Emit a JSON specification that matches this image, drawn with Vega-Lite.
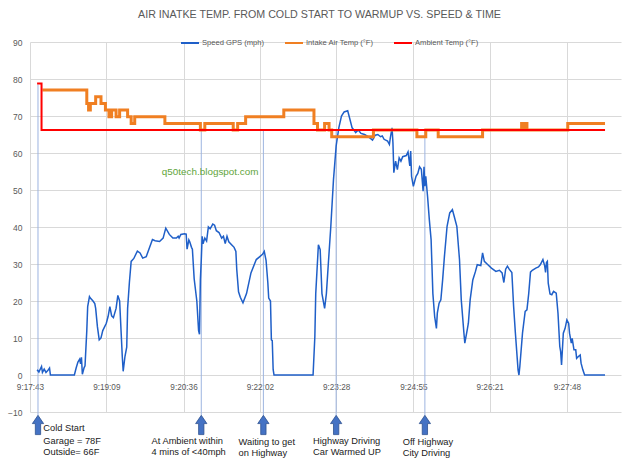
{
  "$schema": "https://vega.github.io/schema/vega-lite/v6.json",
  "description": "Air intake temp from cold start to warmup vs. speed and time",
  "autosize": {"type": "none"},
  "width": 591,
  "height": 370,
  "padding": {"left": 30, "top": 42, "right": 19, "bottom": 53},
  "background": "white",
  "config": {
    "font": "Liberation Sans",
    "view": {"stroke": null},
    "axisY": {
      "grid": true, "gridColor": "#D9D9D9", "gridWidth": 1,
      "domain": false, "ticks": false, "labelOverlap": false,
      "labelColor": "#595959", "labelFontSize": 8.5, "labelPadding": 8
    }
  },
  "title": {
    "text": "AIR INATKE TEMP. FROM COLD START TO WARMUP VS. SPEED & TIME",
    "frame": "group",
    "anchor": "middle",
    "dx": -6,
    "offset": 12,
    "font": "Liberation Sans",
    "fontSize": 10.7,
    "fontWeight": "normal",
    "color": "#595959"
  },
  "encoding": {
    "x": {
      "field": "time",
      "type": "temporal",
      "title": null,
      "scale": {
        "domain": [
          {"year": 1900, "month": 1, "date": 1, "hours": 9, "minutes": 17, "seconds": 43},
          {"year": 1900, "month": 1, "date": 1, "hours": 9, "minutes": 28, "seconds": 49}
        ],
        "nice": false
      },
      "axis": {
        "values": [
          {"year": 1900, "month": 1, "date": 1, "hours": 9, "minutes": 17, "seconds": 43},
          {"year": 1900, "month": 1, "date": 1, "hours": 9, "minutes": 19, "seconds": 9},
          {"year": 1900, "month": 1, "date": 1, "hours": 9, "minutes": 20, "seconds": 36},
          {"year": 1900, "month": 1, "date": 1, "hours": 9, "minutes": 22, "seconds": 2},
          {"year": 1900, "month": 1, "date": 1, "hours": 9, "minutes": 23, "seconds": 28},
          {"year": 1900, "month": 1, "date": 1, "hours": 9, "minutes": 24, "seconds": 55},
          {"year": 1900, "month": 1, "date": 1, "hours": 9, "minutes": 26, "seconds": 21},
          {"year": 1900, "month": 1, "date": 1, "hours": 9, "minutes": 27, "seconds": 48}
        ],
        "format": "%-H:%M:%S",
        "grid": true,
        "gridColor": "#D9D9D9",
        "domain": false,
        "ticks": false,
        "offset": -37,
        "labelPadding": 8,
        "labelFlush": false,
        "labelOverlap": false,
        "labelColor": "#595959",
        "labelFontSize": 8.2
      }
    }
  },
  "layer": [
    {
      "data": {
        "values": [
          {"time": "09:17:52", "from": 78.5},
          {"time": "09:20:56", "from": 66},
          {"time": "09:22:06", "from": 66},
          {"time": "09:23:28", "from": 66},
          {"time": "09:25:08", "from": 66}
        ],
        "format": {"parse": {"time": "date:'%H:%M:%S'"}}
      },
      "mark": {"type": "rule", "color": "#9DB4E0", "strokeWidth": 1},
      "encoding": {
        "y": {"field": "from", "type": "quantitative", "title": null,
              "scale": {"domain": [-10, 90], "nice": false, "zero": false},
              "axis": {"values": [-10, 0, 10, 20, 30, 40, 50, 60, 70, 80, 90]}},
        "y2": {"datum": -10.9}
      }
    },
    {
      "data": {
        "values": [
          {"time": "09:17:51", "value": 1.4}, {"time": "09:17:53", "value": 0.8}, {"time": "09:17:56", "value": 2.3},
          {"time": "09:17:57", "value": 0.7}, {"time": "09:17:59", "value": 1.6}, {"time": "09:18:01", "value": 0.7},
          {"time": "09:18:03", "value": 1.2}, {"time": "09:18:05", "value": 1.9}, {"time": "09:18:06", "value": 0},
          {"time": "09:18:33", "value": 0}, {"time": "09:18:35", "value": 1.9}, {"time": "09:18:37", "value": 3.5},
          {"time": "09:18:39", "value": 4.3}, {"time": "09:18:40", "value": 3.0}, {"time": "09:18:41", "value": 4.8},
          {"time": "09:18:42", "value": 0.2}, {"time": "09:18:44", "value": 2.0}, {"time": "09:18:45", "value": 2.5},
          {"time": "09:18:47", "value": 12}, {"time": "09:18:48", "value": 18.5}, {"time": "09:18:50", "value": 21.2},
          {"time": "09:18:51", "value": 20.8}, {"time": "09:18:54", "value": 20}, {"time": "09:18:56", "value": 19.3},
          {"time": "09:18:57", "value": 18}, {"time": "09:18:59", "value": 13}, {"time": "09:19:01", "value": 9.5},
          {"time": "09:19:03", "value": 10}, {"time": "09:19:05", "value": 12}, {"time": "09:19:09", "value": 14},
          {"time": "09:19:11", "value": 15.8}, {"time": "09:19:13", "value": 18.5}, {"time": "09:19:15", "value": 16},
          {"time": "09:19:17", "value": 15.5}, {"time": "09:19:20", "value": 18}, {"time": "09:19:22", "value": 21.5},
          {"time": "09:19:24", "value": 20}, {"time": "09:19:26", "value": 10}, {"time": "09:19:27", "value": 5},
          {"time": "09:19:28", "value": 1}, {"time": "09:19:30", "value": 5}, {"time": "09:19:32", "value": 7.5},
          {"time": "09:19:33", "value": 18}, {"time": "09:19:35", "value": 25}, {"time": "09:19:37", "value": 30.7},
          {"time": "09:19:40", "value": 31.5}, {"time": "09:19:44", "value": 33.5}, {"time": "09:19:47", "value": 33},
          {"time": "09:19:50", "value": 31.6}, {"time": "09:19:54", "value": 32}, {"time": "09:19:57", "value": 34},
          {"time": "09:20:01", "value": 36.6}, {"time": "09:20:04", "value": 36.3}, {"time": "09:20:09", "value": 36.1},
          {"time": "09:20:13", "value": 37}, {"time": "09:20:16", "value": 39.7}, {"time": "09:20:20", "value": 38},
          {"time": "09:20:24", "value": 37}, {"time": "09:20:28", "value": 37}, {"time": "09:20:30", "value": 37.5},
          {"time": "09:20:31", "value": 37}, {"time": "09:20:33", "value": 38}, {"time": "09:20:37", "value": 38.2},
          {"time": "09:20:39", "value": 38.1}, {"time": "09:20:40", "value": 34}, {"time": "09:20:42", "value": 36.5},
          {"time": "09:20:43", "value": 36}, {"time": "09:20:45", "value": 34.5}, {"time": "09:20:46", "value": 34},
          {"time": "09:20:48", "value": 26}, {"time": "09:20:51", "value": 20}, {"time": "09:20:53", "value": 12},
          {"time": "09:20:54", "value": 11}, {"time": "09:20:55", "value": 25.8}, {"time": "09:20:56", "value": 31},
          {"time": "09:20:57", "value": 37.5}, {"time": "09:20:58", "value": 35.5}, {"time": "09:21:00", "value": 37},
          {"time": "09:21:02", "value": 36.2}, {"time": "09:21:04", "value": 40}, {"time": "09:21:06", "value": 39.5},
          {"time": "09:21:09", "value": 40.8}, {"time": "09:21:11", "value": 40.5}, {"time": "09:21:13", "value": 39},
          {"time": "09:21:16", "value": 38.5}, {"time": "09:21:19", "value": 37}, {"time": "09:21:21", "value": 37.5},
          {"time": "09:21:23", "value": 35.5}, {"time": "09:21:25", "value": 37.5}, {"time": "09:21:27", "value": 36},
          {"time": "09:21:31", "value": 35}, {"time": "09:21:33", "value": 34.5}, {"time": "09:21:35", "value": 33.4},
          {"time": "09:21:36", "value": 28.5}, {"time": "09:21:38", "value": 22.5}, {"time": "09:21:40", "value": 21},
          {"time": "09:21:43", "value": 19.5}, {"time": "09:21:47", "value": 22}, {"time": "09:21:52", "value": 27.6},
          {"time": "09:21:58", "value": 31.2}, {"time": "09:22:02", "value": 32}, {"time": "09:22:05", "value": 32.6},
          {"time": "09:22:07", "value": 33.4}, {"time": "09:22:09", "value": 31}, {"time": "09:22:11", "value": 25},
          {"time": "09:22:12", "value": 20.8}, {"time": "09:22:14", "value": 20}, {"time": "09:22:15", "value": 9.5},
          {"time": "09:22:16", "value": 9.3}, {"time": "09:22:17", "value": 1.5}, {"time": "09:22:18", "value": 0},
          {"time": "09:23:02", "value": 0}, {"time": "09:23:04", "value": 10.4}, {"time": "09:23:05", "value": 22},
          {"time": "09:23:08", "value": 35.2}, {"time": "09:23:10", "value": 33.9}, {"time": "09:23:12", "value": 22},
          {"time": "09:23:15", "value": 18}, {"time": "09:23:17", "value": 22}, {"time": "09:23:19", "value": 29.4},
          {"time": "09:23:22", "value": 40.2}, {"time": "09:23:25", "value": 52.8}, {"time": "09:23:28", "value": 61.9},
          {"time": "09:23:31", "value": 66.8}, {"time": "09:23:34", "value": 70}, {"time": "09:23:37", "value": 71.1},
          {"time": "09:23:41", "value": 71.4}, {"time": "09:23:43", "value": 69.6}, {"time": "09:23:46", "value": 66.8},
          {"time": "09:23:49", "value": 65.9}, {"time": "09:23:50", "value": 65.5}, {"time": "09:23:53", "value": 66.2},
          {"time": "09:23:56", "value": 65.3}, {"time": "09:24:00", "value": 65}, {"time": "09:24:04", "value": 64.4},
          {"time": "09:24:07", "value": 63.9}, {"time": "09:24:09", "value": 63.5}, {"time": "09:24:12", "value": 64.8},
          {"time": "09:24:15", "value": 65}, {"time": "09:24:18", "value": 64.4}, {"time": "09:24:20", "value": 64.6},
          {"time": "09:24:22", "value": 63.7}, {"time": "09:24:26", "value": 63.2}, {"time": "09:24:28", "value": 62.3},
          {"time": "09:24:29", "value": 64}, {"time": "09:24:31", "value": 66.8}, {"time": "09:24:32", "value": 62.8},
          {"time": "09:24:33", "value": 54.7}, {"time": "09:24:35", "value": 57.8}, {"time": "09:24:37", "value": 55.5},
          {"time": "09:24:39", "value": 58.7}, {"time": "09:24:41", "value": 57.8}, {"time": "09:24:43", "value": 59},
          {"time": "09:24:47", "value": 59.3}, {"time": "09:24:49", "value": 60.3}, {"time": "09:24:51", "value": 56.5},
          {"time": "09:24:52", "value": 60.5}, {"time": "09:24:53", "value": 53.7}, {"time": "09:24:55", "value": 51},
          {"time": "09:24:58", "value": 53.7}, {"time": "09:25:00", "value": 54.5}, {"time": "09:25:02", "value": 56.3},
          {"time": "09:25:04", "value": 55.6}, {"time": "09:25:06", "value": 49.7}, {"time": "09:25:07", "value": 56.3},
          {"time": "09:25:08", "value": 51}, {"time": "09:25:09", "value": 53.7}, {"time": "09:25:11", "value": 48.3},
          {"time": "09:25:13", "value": 42}, {"time": "09:25:15", "value": 36.6}, {"time": "09:25:17", "value": 22},
          {"time": "09:25:19", "value": 15.8}, {"time": "09:25:21", "value": 12.6}, {"time": "09:25:22", "value": 16.7},
          {"time": "09:25:24", "value": 19.4}, {"time": "09:25:26", "value": 20.3}, {"time": "09:25:28", "value": 25.7},
          {"time": "09:25:30", "value": 32}, {"time": "09:25:33", "value": 40.2}, {"time": "09:25:36", "value": 43.8},
          {"time": "09:25:39", "value": 44.7}, {"time": "09:25:41", "value": 42.9}, {"time": "09:25:44", "value": 40.2},
          {"time": "09:25:47", "value": 31.2}, {"time": "09:25:49", "value": 20.3}, {"time": "09:25:52", "value": 11.3},
          {"time": "09:25:53", "value": 8.6}, {"time": "09:25:56", "value": 12.6}, {"time": "09:25:57", "value": 14},
          {"time": "09:25:59", "value": 20.3}, {"time": "09:26:02", "value": 25.7}, {"time": "09:26:05", "value": 28},
          {"time": "09:26:07", "value": 29.8}, {"time": "09:26:11", "value": 29.6}, {"time": "09:26:13", "value": 33},
          {"time": "09:26:15", "value": 30.7}, {"time": "09:26:19", "value": 29.8}, {"time": "09:26:23", "value": 28.9},
          {"time": "09:26:28", "value": 28}, {"time": "09:26:32", "value": 28.3}, {"time": "09:26:35", "value": 27.6},
          {"time": "09:26:37", "value": 25}, {"time": "09:26:39", "value": 28.6}, {"time": "09:26:41", "value": 29.4},
          {"time": "09:26:43", "value": 28.6}, {"time": "09:26:46", "value": 27.7}, {"time": "09:26:48", "value": 18.5},
          {"time": "09:26:50", "value": 11.3}, {"time": "09:26:53", "value": 1.4}, {"time": "09:26:54", "value": 0},
          {"time": "09:26:55", "value": 2.3}, {"time": "09:26:58", "value": 11.3}, {"time": "09:27:01", "value": 17.2},
          {"time": "09:27:03", "value": 17.6}, {"time": "09:27:05", "value": 22}, {"time": "09:27:07", "value": 27.8},
          {"time": "09:27:09", "value": 28.3}, {"time": "09:27:13", "value": 28.9}, {"time": "09:27:16", "value": 29.2},
          {"time": "09:27:18", "value": 29.8}, {"time": "09:27:21", "value": 31.2}, {"time": "09:27:23", "value": 29.5},
          {"time": "09:27:24", "value": 27.7}, {"time": "09:27:25", "value": 30.4}, {"time": "09:27:26", "value": 30.7},
          {"time": "09:27:27", "value": 24.8}, {"time": "09:27:29", "value": 21.9}, {"time": "09:27:31", "value": 21.7},
          {"time": "09:27:33", "value": 22.6}, {"time": "09:27:36", "value": 22.1}, {"time": "09:27:38", "value": 16.7},
          {"time": "09:27:40", "value": 7.7}, {"time": "09:27:41", "value": 6.3}, {"time": "09:27:42", "value": 2.7},
          {"time": "09:27:44", "value": 11.3}, {"time": "09:27:46", "value": 12.6}, {"time": "09:27:48", "value": 14.9},
          {"time": "09:27:50", "value": 14}, {"time": "09:27:51", "value": 11.3}, {"time": "09:27:53", "value": 8.6},
          {"time": "09:27:54", "value": 9.9}, {"time": "09:27:56", "value": 6.8}, {"time": "09:27:58", "value": 6.8},
          {"time": "09:27:59", "value": 4.5}, {"time": "09:28:01", "value": 5}, {"time": "09:28:03", "value": 5.4},
          {"time": "09:28:04", "value": 3.2}, {"time": "09:28:06", "value": 1.4}, {"time": "09:28:08", "value": 0},
          {"time": "09:28:31", "value": 0}
        ],
        "format": {"parse": {"time": "date:'%H:%M:%S'"}}
      },
      "mark": {"type": "line", "strokeWidth": 1.5},
      "encoding": {
        "y": {"field": "value", "type": "quantitative", "title": null,
              "scale": {"domain": [-10, 90], "nice": false, "zero": false},
              "axis": {"values": [-10, 0, 10, 20, 30, 40, 50, 60, 70, 80, 90]}},
        "color": {
          "datum": "Speed GPS (mph)",
          "type": "nominal",
          "scale": {
            "domain": ["Speed GPS (mph)", "Intake Air Temp (°F)", "Ambient Temp (°F)"],
            "range": ["#1F5FC8", "#F07F22", "#FF0000"]
          },
          "legend": {
            "title": null,
            "orient": "none",
            "direction": "horizontal",
            "legendX": 150,
            "legendY": -9,
            "padding": 0,
            "symbolType": "stroke",
            "symbolSize": 324,
            "symbolStrokeWidth": 2,
            "labelFontSize": 7.6,
            "labelColor": "#595959",
            "labelOffset": 2,
            "columnPadding": 16
          }
        }
      }
    },
    {
      "data": {
        "values": [
          {"time": "09:17:57", "value": 77}, {"time": "09:18:47", "value": 73.4}, {"time": "09:18:49", "value": 71.6},
          {"time": "09:18:51", "value": 73.4}, {"time": "09:18:57", "value": 75.2}, {"time": "09:19:03", "value": 73.4},
          {"time": "09:19:08", "value": 71.6}, {"time": "09:19:12", "value": 69.8}, {"time": "09:19:15", "value": 71.6},
          {"time": "09:19:20", "value": 69.8}, {"time": "09:19:24", "value": 71.6}, {"time": "09:19:33", "value": 69.8},
          {"time": "09:19:37", "value": 68}, {"time": "09:19:41", "value": 69.8}, {"time": "09:20:15", "value": 68},
          {"time": "09:20:55", "value": 66.2}, {"time": "09:21:00", "value": 68}, {"time": "09:21:32", "value": 66.2},
          {"time": "09:21:37", "value": 68}, {"time": "09:21:46", "value": 69.8}, {"time": "09:22:29", "value": 71.6},
          {"time": "09:23:03", "value": 68}, {"time": "09:23:07", "value": 66.2}, {"time": "09:23:15", "value": 68},
          {"time": "09:23:20", "value": 66.2}, {"time": "09:23:23", "value": 64.4}, {"time": "09:24:10", "value": 66.2},
          {"time": "09:24:59", "value": 64.4}, {"time": "09:25:09", "value": 66.2}, {"time": "09:25:23", "value": 64.4},
          {"time": "09:26:13", "value": 66.2}, {"time": "09:26:57", "value": 68}, {"time": "09:26:59", "value": 66.2},
          {"time": "09:27:01", "value": 68}, {"time": "09:27:03", "value": 66.2}, {"time": "09:27:49", "value": 68},
          {"time": "09:28:31", "value": 68}
        ],
        "format": {"parse": {"time": "date:'%H:%M:%S'"}}
      },
      "mark": {"type": "line", "strokeWidth": 3, "interpolate": "step-after"},
      "encoding": {
        "y": {"field": "value", "type": "quantitative", "title": null,
              "scale": {"domain": [-10, 90], "nice": false, "zero": false},
              "axis": {"values": [-10, 0, 10, 20, 30, 40, 50, 60, 70, 80, 90]}},
        "color": {"datum": "Intake Air Temp (°F)", "type": "nominal"}
      }
    },
    {
      "data": {
        "values": [
          {"time": "09:17:51", "value": 78.8},
          {"time": "09:17:56", "value": 66.2},
          {"time": "09:28:31", "value": 66.2}
        ],
        "format": {"parse": {"time": "date:'%H:%M:%S'"}}
      },
      "mark": {"type": "line", "strokeWidth": 2, "interpolate": "step-after"},
      "encoding": {
        "y": {"field": "value", "type": "quantitative", "title": null,
              "scale": {"domain": [-10, 90], "nice": false, "zero": false},
              "axis": {"values": [-10, 0, 10, 20, 30, 40, 50, 60, 70, 80, 90]}},
        "color": {"datum": "Ambient Temp (°F)", "type": "nominal"}
      }
    },
    {
      "data": {
        "values": [
          {"time": "09:17:52"},
          {"time": "09:20:56"},
          {"time": "09:22:06"},
          {"time": "09:23:28"},
          {"time": "09:25:08"}
        ],
        "format": {"parse": {"time": "date:'%H:%M:%S'"}}
      },
      "mark": {
        "type": "point",
        "shape": "M0,-1L0.585,-0.14L0.275,-0.14L0.275,1L-0.275,1L-0.275,-0.14L-0.585,-0.14Z",
        "size": 372,
        "filled": true,
        "fill": "#4472C4",
        "stroke": "#2F528F",
        "strokeWidth": 0.8,
        "opacity": 1
      },
      "encoding": {
        "y": {"datum": -13.5, "type": "quantitative", "title": null,
              "scale": {"domain": [-10, 90], "nice": false, "zero": false},
              "axis": {"values": [-10, 0, 10, 20, 30, 40, 50, 60, 70, 80, 90]}}
      }
    },
    {
      "data": {
        "values": [
          {"time": "09:17:58", "y": -14.4, "label": "Cold Start"},
          {"time": "09:17:58", "y": -17.8, "label": "Garage = 78F"},
          {"time": "09:17:58", "y": -20.9, "label": "Outside= 66F"},
          {"time": "09:20:00", "y": -17.8, "label": "At Ambient within"},
          {"time": "09:20:00", "y": -20.9, "label": "4 mins of <40mph"},
          {"time": "09:21:38", "y": -18.0, "label": "Waiting to get"},
          {"time": "09:21:38", "y": -21.1, "label": "on  Highway"},
          {"time": "09:23:02", "y": -17.8, "label": "Highway Driving"},
          {"time": "09:23:02", "y": -20.9, "label": "Car Warmed UP"},
          {"time": "09:24:43", "y": -18.0, "label": "Off Highway"},
          {"time": "09:24:43", "y": -21.1, "label": "City Driving"}
        ],
        "format": {"parse": {"time": "date:'%H:%M:%S'"}}
      },
      "mark": {"type": "text", "align": "left", "baseline": "middle", "fontSize": 9.3, "color": "#1A1A1A"},
      "encoding": {
        "y": {"field": "y", "type": "quantitative", "title": null,
              "scale": {"domain": [-10, 90], "nice": false, "zero": false},
              "axis": {"values": [-10, 0, 10, 20, 30, 40, 50, 60, 70, 80, 90]}},
        "text": {"field": "label", "type": "nominal"}
      }
    },
    {
      "data": {
        "values": [
          {"time": "09:21:06", "value": 55, "label": "q50tech.blogspot.com"}
        ],
        "format": {"parse": {"time": "date:'%H:%M:%S'"}}
      },
      "mark": {"type": "text", "align": "center", "baseline": "middle", "fontSize": 9.9, "color": "#5FA53A"},
      "encoding": {
        "y": {"field": "value", "type": "quantitative", "title": null,
              "scale": {"domain": [-10, 90], "nice": false, "zero": false},
              "axis": {"values": [-10, 0, 10, 20, 30, 40, 50, 60, 70, 80, 90]}},
        "text": {"field": "label", "type": "nominal"}
      }
    }
  ]
}
